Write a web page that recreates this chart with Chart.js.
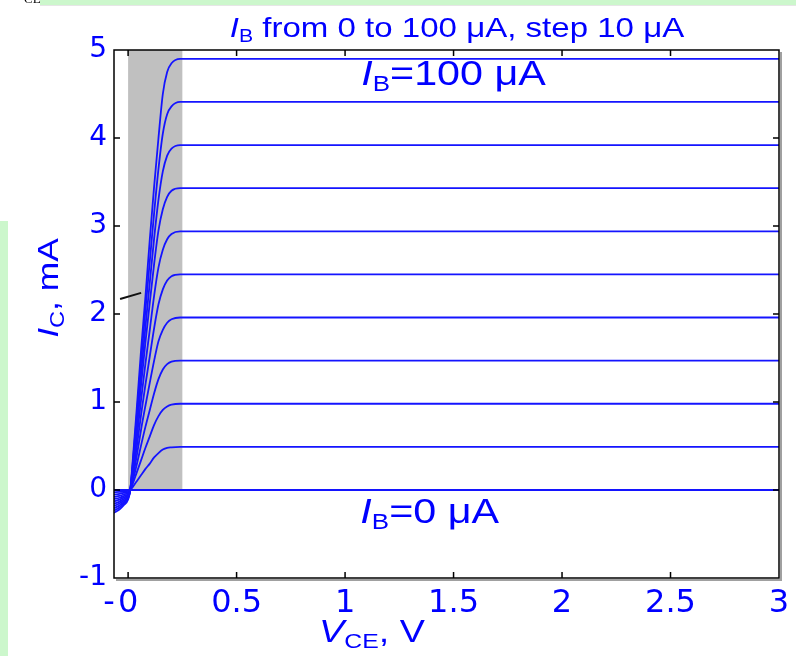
<!DOCTYPE html>
<html>
<head>
<meta charset="utf-8">
<script src="https://cdn.jsdelivr.net/npm/chart.js@4.4.0/dist/chart.umd.min.js"></script>
<style>
  html, body { margin: 0; padding: 0; background: #fff; overflow: hidden; }
  #wrap { position: relative; width: 796px; height: 656px; }
</style>
</head>
<body>
<div id="wrap"><canvas id="chart" width="796" height="656"></canvas></div>
<script>
// ==================== DATA ====================
// V_CE sample points, V
const vce = [-0.065, -0.04, -0.02, 0, 0.01, 0.02, 0.04, 0.06, 0.08, 0.10, 0.12, 0.14, 0.16, 0.18, 0.20, 0.24, 3.0];

// base current of each curve, uA
const ibValues = [0, 10, 20, 30, 40, 50, 60, 70, 80, 90, 100];

// collector current of each curve, mA
const ic0   = [0, 0, 0, 0, 0, 0, 0, 0, 0, 0, 0, 0, 0, 0, 0, 0, 0];
const ic10  = [-0.026, -0.022, -0.017, -0.011, 0, 0.03, 0.10, 0.17, 0.24, 0.30, 0.37, 0.42, 0.46, 0.48, 0.485, 0.49, 0.49];
const ic20  = [-0.052, -0.044, -0.034, -0.022, 0, 0.06, 0.20, 0.34, 0.48, 0.61, 0.74, 0.84, 0.91, 0.95, 0.97, 0.98, 0.98];
const ic30  = [-0.078, -0.066, -0.051, -0.032, 0, 0.09, 0.29, 0.51, 0.72, 0.91, 1.10, 1.26, 1.37, 1.43, 1.46, 1.47, 1.47];
const ic40  = [-0.104, -0.088, -0.069, -0.043, 0, 0.12, 0.39, 0.69, 0.96, 1.22, 1.47, 1.69, 1.82, 1.90, 1.94, 1.96, 1.96];
const ic50  = [-0.130, -0.110, -0.086, -0.054, 0, 0.15, 0.49, 0.86, 1.20, 1.52, 1.84, 2.11, 2.28, 2.38, 2.43, 2.45, 2.45];
const ic60  = [-0.156, -0.132, -0.103, -0.065, 0, 0.18, 0.59, 1.03, 1.44, 1.82, 2.21, 2.53, 2.73, 2.85, 2.91, 2.94, 2.94];
const ic70  = [-0.182, -0.154, -0.120, -0.075, 0, 0.21, 0.69, 1.20, 1.68, 2.13, 2.57, 2.95, 3.19, 3.33, 3.40, 3.43, 3.43];
const ic80  = [-0.208, -0.176, -0.137, -0.086, 0, 0.24, 0.76, 1.33, 1.86, 2.36, 2.86, 3.30, 3.62, 3.80, 3.88, 3.92, 3.92];
const ic90  = [-0.234, -0.198, -0.154, -0.097, 0, 0.26, 0.85, 1.47, 2.05, 2.60, 3.15, 3.65, 4.05, 4.27, 4.36, 4.41, 4.41];
const ic100 = [-0.260, -0.221, -0.172, -0.108, 0, 0.29, 0.93, 1.60, 2.20, 2.85, 3.45, 4.00, 4.50, 4.75, 4.85, 4.90, 4.90];
const icCurves = [ic0, ic10, ic20, ic30, ic40, ic50, ic60, ic70, ic80, ic90, ic100];

// small pointer line near the bundle (V, mA)
const pointerX = [-0.037, 0.06];
const pointerY = [2.17, 2.24];

// shaded saturation region (V, mA)
const shadeX = [0, 0.25];
const shadeY = [0, 5];

// ticks
const xTicks = [-0.065, 0, 0.5, 1, 1.5, 2, 2.5, 3];
const xTickLabels = ["- ", "0", "0.5", "1", "1.5", "2", "2.5", "3"];
const yTicks = [-1, 0, 1, 2, 3, 4, 5];

// ==================== STYLE ====================
const BLUE = "#0000ff";
const CURVE = "#1414ff";
const TXT = "'Liberation Sans', Arial, sans-serif";
const TICKFONT = "'DejaVu Sans', sans-serif";
const STRETCH = 1.18;

// draw text made of runs (italic / subscript parts)
function drawRuns(ctx, runs, x, y, align) {
  ctx.save();
  ctx.fillStyle = BLUE;
  ctx.textBaseline = "alphabetic";
  ctx.textAlign = "left";
  let w = 0;
  runs.forEach(r => { ctx.font = r.font; w += ctx.measureText(r.t).width; });
  ctx.translate(x, y);
  ctx.scale(STRETCH, 1);
  let cx = align === "center" ? -w / 2 : 0;
  runs.forEach(r => {
    ctx.font = r.font;
    ctx.fillText(r.t, cx, r.dy || 0);
    cx += ctx.measureText(r.t).width;
  });
  ctx.restore();
}

const decorPlugin = {
  id: "decor",
  beforeDraw(chart) {
    const ctx = chart.ctx;
    ctx.save();
    ctx.fillStyle = "#fff";
    ctx.fillRect(0, 0, chart.width, chart.height);
    // pale green page strips
    ctx.fillStyle = "#ccf7cc";
    ctx.fillRect(40, 0, chart.width - 40, 5);
    ctx.fillRect(0, 221, 8, chart.height - 221);
    ctx.fillStyle = "#e6e6e6";
    ctx.fillRect(40, 5, chart.width - 40, 1);
    ctx.fillStyle = "#000";
    ctx.font = "13px 'Liberation Serif', serif";
    ctx.fillText("CE", 24, 3);
    ctx.restore();
  },
  beforeDatasetsDraw(chart) {
    const { ctx, scales: { x, y } } = chart;
    ctx.save();
    ctx.fillStyle = "#c0c0c0";
    const x0 = x.getPixelForValue(shadeX[0]), x1 = x.getPixelForValue(shadeX[1]);
    const y0 = y.getPixelForValue(shadeY[1]), y1 = y.getPixelForValue(shadeY[0]);
    ctx.fillRect(x0, y0, x1 - x0, y1 - y0);
    ctx.restore();
  },
  afterDraw(chart) {
    const { ctx, chartArea: a, scales: { x, y } } = chart;
    ctx.save();
    // frame with a faint shadow on the right / bottom
    ctx.strokeStyle = "#a0a0a0";
    ctx.lineWidth = 2;
    ctx.beginPath();
    ctx.moveTo(a.right + 2, a.top + 2);
    ctx.lineTo(a.right + 2, a.bottom + 2);
    ctx.lineTo(a.left + 2, a.bottom + 2);
    ctx.stroke();
    ctx.strokeStyle = "#000";
    ctx.lineWidth = 1.5;
    ctx.strokeRect(a.left, a.top, a.right - a.left, a.bottom - a.top);
    // inward ticks on all sides
    ctx.beginPath();
    xTicks.slice(1, -1).forEach(v => {
      const px = x.getPixelForValue(v);
      ctx.moveTo(px, a.bottom); ctx.lineTo(px, a.bottom - 6);
      ctx.moveTo(px, a.top); ctx.lineTo(px, a.top + 6);
    });
    yTicks.slice(1, -1).forEach(v => {
      const py = y.getPixelForValue(v);
      ctx.moveTo(a.left, py); ctx.lineTo(a.left + 6, py);
      ctx.moveTo(a.right, py); ctx.lineTo(a.right - 6, py);
    });
    ctx.stroke();
    ctx.restore();

    // texts
    const big = "28px " + TXT, bigI = "italic 28px " + TXT, sub = "18px " + TXT;
    drawRuns(ctx, [{ t: "I", font: bigI }, { t: "B", font: sub, dy: 5 }, { t: " from 0 to 100 \u03bcA, step 10 \u03bcA", font: big }],
      457, 37, "center");

    const lab = "35px " + TXT, labI = "italic 35px " + TXT, labS = "22px " + TXT;
    drawRuns(ctx, [{ t: "I", font: labI }, { t: "B", font: labS, dy: 6 }, { t: "=100 \u03bcA", font: lab }],
      x.getPixelForValue(1.5), y.getPixelForValue(4.6), "center");
    drawRuns(ctx, [{ t: "I", font: labI }, { t: "B", font: labS, dy: 6 }, { t: "=0 \u03bcA", font: lab }],
      x.getPixelForValue(1.39), y.getPixelForValue(-0.375), "center");

    const ax = "32px " + TXT, axI = "italic 32px " + TXT, axS = "21px " + TXT;
    drawRuns(ctx, [{ t: "V", font: axI }, { t: "CE", font: axS, dy: 6 }, { t: ", V", font: ax }],
      372, 642, "center");

    ctx.save();
    ctx.translate(58, 288);
    ctx.rotate(-Math.PI / 2);
    drawRuns(ctx, [{ t: "I", font: "italic 30px " + TXT }, { t: "C", font: "20px " + TXT, dy: 6 }, { t: ", mA", font: "30px " + TXT }],
      0, 0, "center");
    ctx.restore();
  }
};

// ==================== CHART ====================
const datasets = icCurves.map((curve, i) => ({
  label: "IB=" + ibValues[i] + " uA",
  data: vce.map((v, k) => ({ x: v, y: curve[k] })),
  borderColor: CURVE,
  borderWidth: 1.8,
  pointRadius: 0,
  fill: false,
  cubicInterpolationMode: "monotone"
}));

datasets.push({
  label: "pointer",
  data: pointerX.map((v, k) => ({ x: v, y: pointerY[k] })),
  borderColor: "#111",
  borderWidth: 2,
  pointRadius: 0,
  fill: false
});

new Chart(document.getElementById("chart"), {
  type: "line",
  data: { datasets },
  plugins: [decorPlugin],
  options: {
    responsive: false,
    animation: false,
    layout: { padding: { top: 50, right: 17, left: 0, bottom: 0 } },
    plugins: { legend: { display: false }, tooltip: { enabled: false } },
    scales: {
      x: {
        type: "linear",
        min: xTicks[0],
        max: 3,
        afterBuildTicks: s => { s.ticks = xTicks.map(v => ({ value: v })); },
        afterFit: s => { s.height = 78; },
        grid: { display: false, drawTicks: false },
        border: { display: false },
        ticks: {
          autoSkip: false,
          maxRotation: 0,
          padding: 6,
          color: BLUE,
          font: { family: TICKFONT, size: 32 },
          callback: (v, i) => xTickLabels[i]
        }
      },
      y: {
        type: "linear",
        min: -1,
        max: 5,
        afterBuildTicks: s => { s.ticks = yTicks.map(v => ({ value: v })); },
        afterFit: s => { s.width = 114; },
        grid: { display: false, drawTicks: false },
        border: { display: false },
        ticks: {
          padding: 7,
          color: BLUE,
          font: { family: TICKFONT, size: 28 },
          callback: v => String(v)
        }
      }
    }
  }
});
</script>
</body>
</html>
